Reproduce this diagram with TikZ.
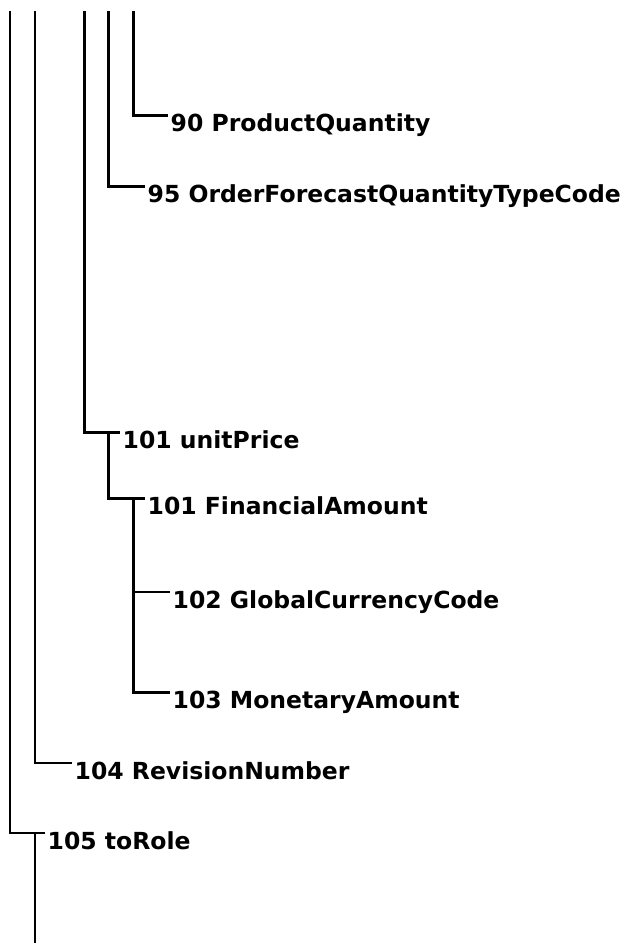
\documentclass[tikz,border=0pt]{standalone}
\usepackage{fontspec}
\newfontfamily\treefont{DejaVu Sans}

\begin{document}
\begin{tikzpicture}[x=1pt, y=-1pt,
    thinline/.style={line width=2pt},
    thickline/.style={line width=3pt},
    lbl/.style={font=\treefont\bfseries\fontsize{23.5}{28}\selectfont, anchor=north west,
                inner xsep=2.5pt, inner ysep=0pt, text height=16pt, text depth=0pt}]
        \useasboundingbox (0,0) rectangle (631,943);

        % --- Tops of the tree lines ---
        \coordinate (top0) at (10,11);
        \coordinate (top1) at (35,11);
        \coordinate (top2) at (84,11);
        \coordinate (top3) at (108,11);
        \coordinate (top4) at (133,11);
        \coordinate (bot) at (35,943);
        % ---

        % --- Labels ---
        \node[lbl] (n90) at (168,115) {90 ProductQuantity};
        \node[lbl] (n95) at (145,186) {95 OrderForecastQuantityTypeCode};
        \node[lbl] (n101u) at (120,432) {101 unitPrice};
        \node[lbl] (n101f) at (145,498) {101 FinancialAmount};
        \node[lbl] (n102) at (170,592) {102 GlobalCurrencyCode};
        \node[lbl] (n103) at (170,692) {103 MonetaryAmount};
        \node[lbl] (n104) at (72,763) {104 RevisionNumber};
        \node[lbl] (n105) at (45,833) {105 toRole};
        % ---

        % --- Branches ---
        \draw[thinline] (top0) |- (n105.north west);
        \draw[thinline] (top1) |- (n104.north west);
        \draw[thickline] (top2) |- (n101u.north west);
        \draw[thickline] (top3) |- (n95.north west);
        \draw[thickline] (top4) |- (n90.north west);
        \draw[thickline] (n101u.north west -| top3) |- (n101f.north west);
        \draw[thickline] (n101f.north west -| top4) |- (n103.north west);
        \draw[thinline] (n102.north west -| top4) -- (n102.north west);
        \draw[thinline] (n105.north west -| top1) -- (bot);
        % ---
\end{tikzpicture}
\end{document}
